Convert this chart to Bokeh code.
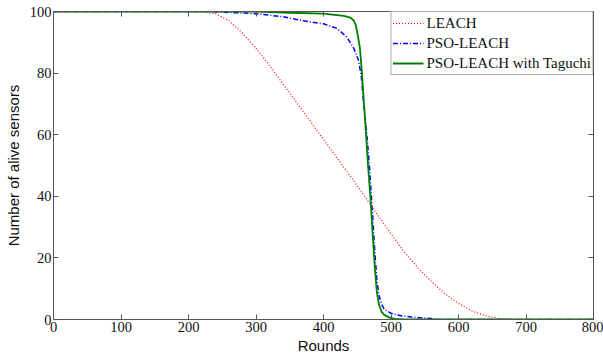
from bokeh.plotting import figure
from bokeh.models import Range1d, LinearAxis, Legend, LegendItem, FixedTicker
from bokeh.embed import file_html
from bokeh.resources import INLINE

# ---- data ----
leach_x = [0, 200, 220, 240, 260, 280, 300, 320, 340, 360, 380, 400, 420, 440, 460,
           480, 500, 520, 540, 560, 580, 600, 620, 640, 660, 680, 800]
leach_y = [100, 100, 99.9, 99.3, 97, 93, 88, 82.5, 76.5, 70.5, 64.5, 58.5, 52.5, 46.5, 40.3,
           34, 27.8, 21.8, 16.7, 12.3, 8.3, 5.2, 2.8, 1.2, 0.3, 0, 0]

pso_x = [0, 230, 260, 300, 340, 370, 400, 420, 435, 445, 452, 456, 459, 462, 465, 468,
         470, 473, 476, 479, 482, 486, 490, 500, 515, 530, 560, 570, 800]
pso_y = [100, 100, 99.7, 99.3, 98.3, 97, 96, 94.5, 91.6, 88, 84, 79, 71, 65, 58, 50,
         43, 33, 22, 13, 8, 5, 3.3, 2, 1.2, 0.8, 0.3, 0, 0]

tag_x = [0, 300, 350, 400, 430, 440, 445, 448, 451, 454, 457, 460, 463, 466, 470, 473,
         476, 479, 482, 486, 490, 497, 505, 520, 800]
tag_y = [100, 100, 99.6, 99.3, 98.6, 98, 97, 95.5, 92, 88, 80, 70, 60, 50, 38, 27,
         17, 9, 5, 2.5, 1.5, 0.7, 0.2, 0, 0]

x_ticks = [0, 100, 200, 300, 400, 500, 600, 700, 800]
y_ticks = [0, 20, 40, 60, 80, 100]
series_names = ["LEACH", "PSO-LEACH", "PSO-LEACH with Taguchi"]

AX = "#555555"
SERIF = "Liberation Serif"
SANS = "Liberation Sans"

p = figure(width=603, height=360, x_range=Range1d(0, 800), y_range=Range1d(0, 100),
           output_backend="svg", toolbar_location=None,
           min_border_left=53, min_border_right=10, min_border_top=11, min_border_bottom=41)
p.xgrid.grid_line_color = None
p.ygrid.grid_line_color = None
p.outline_line_color = AX
p.background_fill_color = "white"
p.border_fill_color = "white"

def style_axis(ax, ticks, show_labels=True):
    ax.ticker = FixedTicker(ticks=ticks)
    ax.axis_line_color = AX
    ax.major_tick_line_color = AX
    ax.major_tick_in = 5
    ax.major_tick_out = 0
    ax.minor_tick_line_color = None
    ax.major_label_text_font = SERIF
    ax.major_label_text_color = "#111111"
    if show_labels:
        ax.major_label_text_font_size = "14.5px"
        ax.major_label_standoff = 2
    else:
        ax.major_label_text_font_size = "0px"
        ax.major_label_standoff = 0
        ax.major_label_text_alpha = 0

style_axis(p.xaxis[0], x_ticks)
style_axis(p.yaxis[0], y_ticks)
p.xaxis.axis_label = "Rounds"
p.yaxis.axis_label = "Number of alive sensors"
for ax in (p.xaxis[0], p.yaxis[0]):
    ax.axis_label_text_font = SANS
    ax.axis_label_text_font_size = "15px"
    ax.axis_label_text_font_style = "normal"
    ax.axis_label_text_color = "#111111"
p.xaxis[0].axis_label_standoff = 2
p.yaxis[0].axis_label_standoff = 5

top_ax = LinearAxis()
style_axis(top_ax, x_ticks, show_labels=False)
p.add_layout(top_ax, "above")
right_ax = LinearAxis()
style_axis(right_ax, y_ticks, show_labels=False)
p.add_layout(right_ax, "right")

r1 = p.line(leach_x, leach_y, line_color="#ff0000", line_width=1.2, line_dash="1 2")
r2 = p.line(pso_x, pso_y, line_color="#0000ff", line_width=1.5, line_dash="5 2 1 2")
r3 = p.line(tag_x, tag_y, line_color="#008000", line_width=1.8)

legend = Legend(items=[LegendItem(label=series_names[0], renderers=[r1]),
                       LegendItem(label=series_names[1], renderers=[r2]),
                       LegendItem(label=series_names[2], renderers=[r3])],
                location="top_right", margin=0, padding=1, spacing=0,
                label_height=20, glyph_height=20, glyph_width=31, label_standoff=3,
                label_text_font=SERIF, label_text_font_size="15px",
                label_text_color="#111111",
                border_line_color=AX, border_line_width=1,
                background_fill_color="white", background_fill_alpha=1)
p.add_layout(legend)

open("out.html", "w").write(file_html(p, INLINE))
